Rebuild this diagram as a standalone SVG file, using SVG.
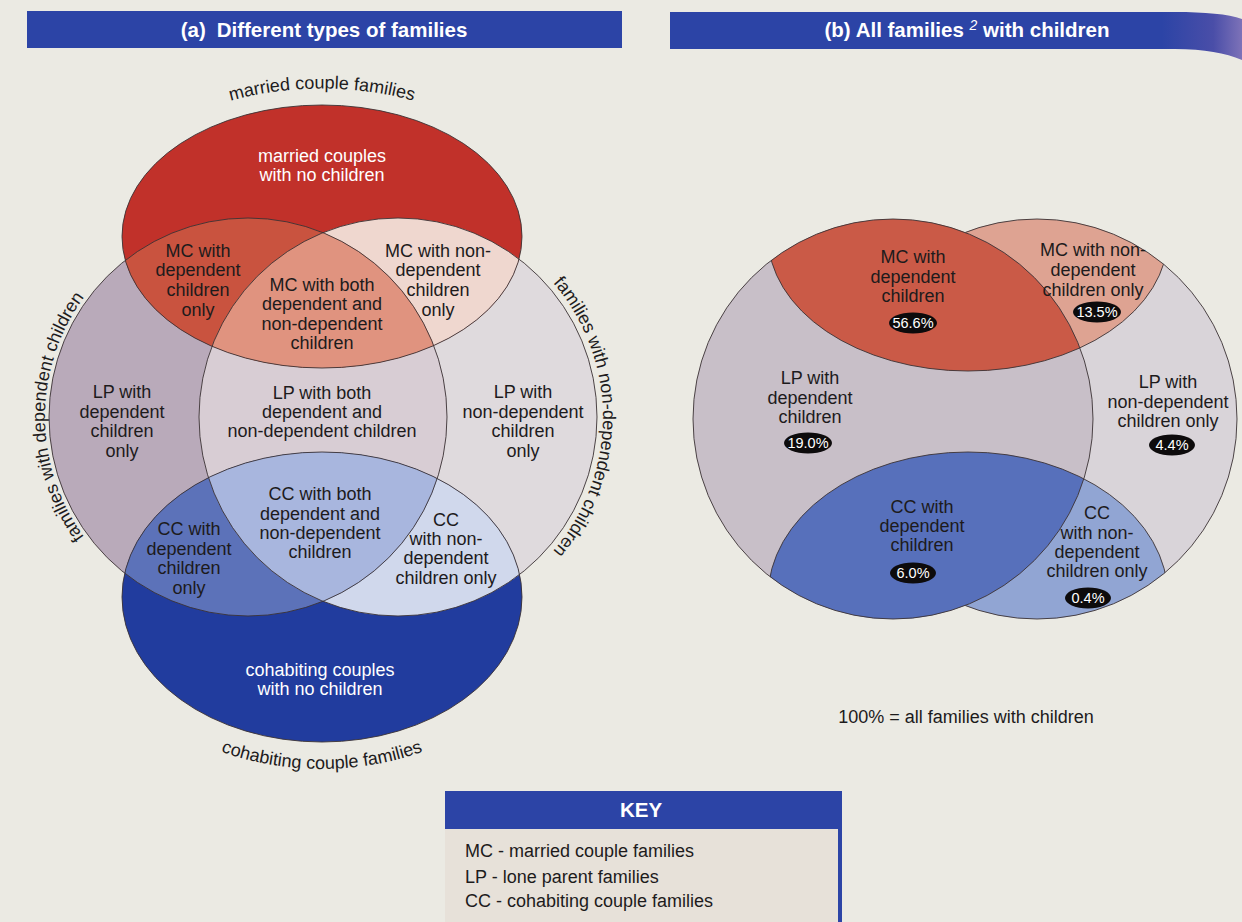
<svg xmlns="http://www.w3.org/2000/svg" width="1242" height="922" viewBox="0 0 1242 922">
<style>
.t{font-family:"Liberation Sans",Arial,Helvetica,sans-serif;font-size:18px;fill:#1d1b1c;text-anchor:middle}
.w{fill:#ffffff}
.ttl{font-family:"Liberation Sans",Arial,Helvetica,sans-serif;font-weight:bold;font-size:20.5px;fill:#ffffff;text-anchor:middle}
.ol{fill:none;stroke:#3b3234;stroke-width:0.9}
.pill{fill:#0d0b0c}
.pt{font-family:"Liberation Sans",Arial,Helvetica,sans-serif;font-size:14.5px;fill:#ffffff;text-anchor:middle}
.key{font-family:"Liberation Sans",Arial,Helvetica,sans-serif;font-size:18px;fill:#1d1b1c}
.bar{fill:#2c44a6}
</style>
<defs>
<circle id="aL" cx="248" cy="417" r="199"/>
<circle id="aR" cx="398" cy="417" r="199"/>
<ellipse id="aM" cx="322" cy="236.5" rx="200" ry="131.5"/>
<ellipse id="aC" cx="322" cy="597" rx="200" ry="145"/>
<circle id="bL" cx="893" cy="419" r="200"/>
<circle id="bR" cx="1037" cy="419" r="200"/>
<ellipse id="bM" cx="968" cy="236" rx="200" ry="135"/>
<ellipse id="bC" cx="968" cy="597" rx="200" ry="145"/>
<clipPath id="cAL"><circle cx="248" cy="417" r="199"/></clipPath>
<clipPath id="cAM"><ellipse cx="322" cy="236.5" rx="200" ry="131.5"/></clipPath>
<clipPath id="cAC"><ellipse cx="322" cy="597" rx="200" ry="145"/></clipPath>
<clipPath id="cBL"><circle cx="893" cy="419" r="200"/></clipPath>
<clipPath id="cBR"><circle cx="1037" cy="419" r="200"/></clipPath>
<clipPath id="cBM"><ellipse cx="968" cy="236" rx="200" ry="135"/></clipPath>
<clipPath id="cBC"><ellipse cx="968" cy="597" rx="200" ry="145"/></clipPath>
<path id="pMar" d="M 92,236.5 A 230 148 0 0 1 552,236.5"/>
<path id="pCoh" d="M 92,597 A 230 172 0 0 0 552,597"/>
<path id="pDep" d="M 146.5,592.8 A 203 203 0 0 1 146.5,241.2"/>
<path id="pNon" d="M 500.5,239.5 A 205 205 0 0 1 500.5,594.5"/>
<linearGradient id="gB" x1="670" y1="0" x2="1242" y2="0" gradientUnits="userSpaceOnUse">
<stop offset="0" stop-color="#2c44a6"/>
<stop offset="0.86" stop-color="#2c44a6"/>
<stop offset="0.95" stop-color="#4a4ea8"/>
<stop offset="1" stop-color="#7d72b8"/>
</linearGradient>
</defs>

<rect x="0" y="0" width="1242" height="922" fill="#ebeae3"/>

<g id="title-a">
<rect class="bar" x="27" y="11" width="595" height="37"/>
<text class="ttl" x="324" y="37">(a)<tspan dx="11">Different types of families</tspan></text>
</g>

<g id="title-b">
<path d="M670,12 L1175,12 C1205,12 1228,14 1242,19 L1242,60 C1225,53 1205,49 1175,49 L670,49 Z" fill="url(#gB)"/>
<text class="ttl" x="967" y="37">(b) All families <tspan font-size="14" font-style="italic" font-weight="normal" dy="-7">2</tspan><tspan dy="7"> with children</tspan></text>
</g>

<!-- Panel (a) shapes -->
<g id="a-shapes">
<use href="#aR" fill="#dfdadd"/>
<use href="#aL" fill="#b9aaba"/>
<g clip-path="url(#cAL)"><use href="#aR" fill="#d8cdd4"/></g>
<use href="#aM" fill="#c1312a"/>
<g clip-path="url(#cAM)">
<use href="#aR" fill="#efd7cf"/>
<use href="#aL" fill="#c9533f"/>
<g clip-path="url(#cAL)"><use href="#aR" fill="#e0937f"/></g>
</g>
<use href="#aC" fill="#213c9e"/>
<g clip-path="url(#cAC)">
<use href="#aR" fill="#d0d8ec"/>
<use href="#aL" fill="#5c72b9"/>
<g clip-path="url(#cAL)"><use href="#aR" fill="#a8b6de"/></g>
</g>
<use href="#aR" class="ol"/>
<use href="#aL" class="ol"/>
<use href="#aM" class="ol"/>
<use href="#aC" class="ol"/>
</g>

<g id="a-set-labels">
<text class="t"><textPath href="#pMar" startOffset="50%">married couple families</textPath></text>
<text class="t"><textPath href="#pCoh" startOffset="50%">cohabiting couple families</textPath></text>
<text class="t"><textPath href="#pDep" startOffset="50%">families with dependent children</textPath></text>
<text class="t" font-size="17.5"><textPath href="#pNon" startOffset="50%">families with non-dependent children</textPath></text>
</g>

<g id="a-mc-nochildren"><text class="t w"><tspan x="322" y="162">married couples</tspan><tspan x="322" y="181">with no children</tspan></text></g>
<g id="a-mc-dep"><text class="t"><tspan x="198" y="257">MC with</tspan><tspan x="198" y="276">dependent</tspan><tspan x="198" y="296">children</tspan><tspan x="198" y="316">only</tspan></text></g>
<g id="a-mc-both"><text class="t"><tspan x="322" y="291">MC with both</tspan><tspan x="322" y="310">dependent and</tspan><tspan x="322" y="330">non-dependent</tspan><tspan x="322" y="349">children</tspan></text></g>
<g id="a-mc-nondep"><text class="t"><tspan x="438" y="257">MC with non-</tspan><tspan x="438" y="276">dependent</tspan><tspan x="438" y="296">children</tspan><tspan x="438" y="316">only</tspan></text></g>
<g id="a-lp-dep"><text class="t"><tspan x="122" y="398">LP with</tspan><tspan x="122" y="418">dependent</tspan><tspan x="122" y="437">children</tspan><tspan x="122" y="457">only</tspan></text></g>
<g id="a-lp-both"><text class="t"><tspan x="322" y="399">LP with both</tspan><tspan x="322" y="418">dependent and</tspan><tspan x="322" y="437">non-dependent children</tspan></text></g>
<g id="a-lp-nondep"><text class="t"><tspan x="523" y="398">LP with</tspan><tspan x="523" y="418">non-dependent</tspan><tspan x="523" y="437">children</tspan><tspan x="523" y="457">only</tspan></text></g>
<g id="a-cc-both"><text class="t"><tspan x="320" y="500">CC with both</tspan><tspan x="320" y="520">dependent and</tspan><tspan x="320" y="539">non-dependent</tspan><tspan x="320" y="558">children</tspan></text></g>
<g id="a-cc-dep"><text class="t"><tspan x="189" y="535">CC with</tspan><tspan x="189" y="555">dependent</tspan><tspan x="189" y="574">children</tspan><tspan x="189" y="594">only</tspan></text></g>
<g id="a-cc-nondep"><text class="t"><tspan x="446" y="526">CC</tspan><tspan x="446" y="545">with non-</tspan><tspan x="446" y="564">dependent</tspan><tspan x="446" y="584">children only</tspan></text></g>
<g id="a-cc-nochildren"><text class="t w"><tspan x="320" y="676">cohabiting couples</tspan><tspan x="320" y="695">with no children</tspan></text></g>

<!-- Panel (b) shapes -->
<g id="b-shapes">
<use href="#bR" fill="#d9d4d9"/>
<g clip-path="url(#cBM)"><use href="#bR" fill="#dea392"/></g>
<g clip-path="url(#cBC)"><use href="#bR" fill="#91a5d3"/></g>
<use href="#bR" class="ol"/>
<g clip-path="url(#cBR)"><use href="#bM" class="ol"/><use href="#bC" class="ol"/></g>
<use href="#bL" fill="#c8bfc8"/>
<g clip-path="url(#cBL)">
<use href="#bM" fill="#ca5a47"/>
<use href="#bC" fill="#5770bb"/>
<use href="#bM" class="ol"/>
<use href="#bC" class="ol"/>
</g>
<use href="#bL" class="ol"/>
</g>

<g id="b-mc-dep"><text class="t"><tspan x="913" y="263">MC with</tspan><tspan x="913" y="283">dependent</tspan><tspan x="913" y="302">children</tspan></text>
<ellipse class="pill" cx="913" cy="323" rx="24" ry="10.5"/><text class="pt" x="913" y="328">56.6%</text></g>
<g id="b-mc-nondep"><text class="t"><tspan x="1093" y="256">MC with non-</tspan><tspan x="1093" y="276">dependent</tspan><tspan x="1093" y="296">children only</tspan></text>
<ellipse class="pill" cx="1097" cy="312" rx="24" ry="10.5"/><text class="pt" x="1097" y="317">13.5%</text></g>
<g id="b-lp-dep"><text class="t"><tspan x="810" y="384">LP with</tspan><tspan x="810" y="404">dependent</tspan><tspan x="810" y="423">children</tspan></text>
<ellipse class="pill" cx="808" cy="443" rx="24" ry="10.5"/><text class="pt" x="808" y="448">19.0%</text></g>
<g id="b-lp-nondep"><text class="t"><tspan x="1168" y="388">LP with</tspan><tspan x="1168" y="408">non-dependent</tspan><tspan x="1168" y="427">children only</tspan></text>
<ellipse class="pill" cx="1172" cy="445" rx="23" ry="10.5"/><text class="pt" x="1172" y="450">4.4%</text></g>
<g id="b-cc-dep"><text class="t"><tspan x="922" y="513">CC with</tspan><tspan x="922" y="532">dependent</tspan><tspan x="922" y="551">children</tspan></text>
<ellipse class="pill" cx="913" cy="573" rx="23" ry="10.5"/><text class="pt" x="913" y="578">6.0%</text></g>
<g id="b-cc-nondep"><text class="t"><tspan x="1097" y="519">CC</tspan><tspan x="1097" y="539">with non-</tspan><tspan x="1097" y="558">dependent</tspan><tspan x="1097" y="577">children only</tspan></text>
<ellipse class="pill" cx="1088" cy="598" rx="23" ry="10.5"/><text class="pt" x="1088" y="603">0.4%</text></g>

<g id="b-note"><text class="t" x="966" y="723">100% = all families with children</text></g>

<g id="key">
<rect class="bar" x="445" y="791" width="397" height="38"/>
<rect x="445" y="829" width="393" height="93" fill="#e7e1d9"/>
<rect class="bar" x="838" y="791" width="4" height="131"/>
<text class="ttl" x="641" y="817">KEY</text>
<text class="key" x="465" y="857">MC - married couple families</text>
<text class="key" x="465" y="883">LP - lone parent families</text>
<text class="key" x="465" y="907">CC - cohabiting couple families</text>
</g>

<g id="connectors"/>
</svg>
